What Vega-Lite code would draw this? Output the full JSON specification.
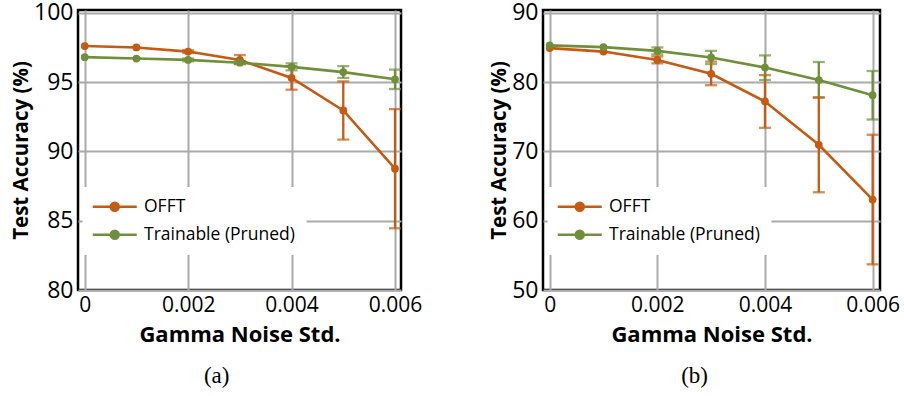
{
  "$schema": "https://vega.github.io/schema/vega-lite/v6.json",
  "background": "white",
  "padding": {"left": 10, "top": 0, "right": 0, "bottom": 0},
  "spacing": 64,
  "config": {
    "font": "Open Sans",
    "view": {"stroke": "black", "strokeWidth": 2.5},
    "axis": {"grid": true, "gridColor": "#aaaaaa", "gridWidth": 2, "domain": false, "ticks": false, "labelColor": "black", "titleColor": "black", "titleFontWeight": "bold", "labelFont": "Open Sans", "titleFont": "Open Sans"},
    "axisY": {"labelFontSize": 23, "labelPadding": 5, "titlePadding": 2, "titleFontSize": 20.5},
    "axisX": {"labelFontSize": 21, "labelPadding": 4, "titlePadding": 9, "labelFlush": false, "titleFontSize": 22},
    "title": {"font": "Liberation Serif", "fontSize": 23, "fontWeight": "normal", "color": "black"}
  },
  "resolve": {"legend": {"color": "independent"}},
  "datasets": {
    "a": [
      {"series": "OFFT", "x": 0, "acc": 97.6, "lo": null, "hi": null},
      {"series": "OFFT", "x": 0.001, "acc": 97.5, "lo": null, "hi": null},
      {"series": "OFFT", "x": 0.002, "acc": 97.2, "lo": 97.1, "hi": 97.3},
      {"series": "OFFT", "x": 0.003, "acc": 96.6, "lo": 96.3, "hi": 96.95},
      {"series": "OFFT", "x": 0.004, "acc": 95.3, "lo": 94.45, "hi": 96.15},
      {"series": "OFFT", "x": 0.005, "acc": 92.95, "lo": 90.85, "hi": 95.05},
      {"series": "OFFT", "x": 0.006, "acc": 88.75, "lo": 84.45, "hi": 93.05},
      {"series": "Trainable (Pruned)", "x": 0, "acc": 96.8, "lo": null, "hi": null},
      {"series": "Trainable (Pruned)", "x": 0.001, "acc": 96.7, "lo": null, "hi": null},
      {"series": "Trainable (Pruned)", "x": 0.002, "acc": 96.6, "lo": 96.5, "hi": 96.7},
      {"series": "Trainable (Pruned)", "x": 0.003, "acc": 96.4, "lo": 96.3, "hi": 96.5},
      {"series": "Trainable (Pruned)", "x": 0.004, "acc": 96.1, "lo": 95.85, "hi": 96.35},
      {"series": "Trainable (Pruned)", "x": 0.005, "acc": 95.72, "lo": 95.3, "hi": 96.15},
      {"series": "Trainable (Pruned)", "x": 0.006, "acc": 95.2, "lo": 94.5, "hi": 95.9}
    ],
    "b": [
      {"series": "OFFT", "x": 0, "acc": 84.9, "lo": null, "hi": null},
      {"series": "OFFT", "x": 0.001, "acc": 84.4, "lo": null, "hi": null},
      {"series": "OFFT", "x": 0.002, "acc": 83.2, "lo": 82.7, "hi": 83.7},
      {"series": "OFFT", "x": 0.003, "acc": 81.2, "lo": 79.55, "hi": 82.95},
      {"series": "OFFT", "x": 0.004, "acc": 77.2, "lo": 73.4, "hi": 81.0},
      {"series": "OFFT", "x": 0.005, "acc": 70.95, "lo": 64.1, "hi": 77.8},
      {"series": "OFFT", "x": 0.006, "acc": 63.05, "lo": 53.7, "hi": 72.4},
      {"series": "Trainable (Pruned)", "x": 0, "acc": 85.3, "lo": null, "hi": null},
      {"series": "Trainable (Pruned)", "x": 0.001, "acc": 85.05, "lo": null, "hi": null},
      {"series": "Trainable (Pruned)", "x": 0.002, "acc": 84.5, "lo": 84.0, "hi": 85.0},
      {"series": "Trainable (Pruned)", "x": 0.003, "acc": 83.55, "lo": 82.6, "hi": 84.5},
      {"series": "Trainable (Pruned)", "x": 0.004, "acc": 82.1, "lo": 80.3, "hi": 83.85},
      {"series": "Trainable (Pruned)", "x": 0.005, "acc": 80.3, "lo": 77.75, "hi": 82.9},
      {"series": "Trainable (Pruned)", "x": 0.006, "acc": 78.1, "lo": 74.6, "hi": 81.6}
    ]
  },
  "hconcat": [
    {
      "width": 323, "height": 280,
      "data": {"name": "a"},
      "title": {"text": "(a)", "orient": "bottom", "anchor": "middle", "frame": "bounds", "offset": 20},
      "encoding": {
        "x": {"field": "x", "type": "quantitative", "scale": {"domain": [-0.00013, 0.006116], "nice": false, "zero": false}, "axis": {"values": [0, 0.002, 0.004, 0.006], "format": "~f", "title": "Gamma Noise Std."}},
        "color": {"field": "series", "type": "nominal", "scale": {"domain": ["OFFT", "Trainable (Pruned)"], "range": ["#c55a11", "#6f8f3a"]},
          "legend": {"orient": "none", "legendX": 4.5, "legendY": 177, "direction": "vertical", "title": null, "fillColor": "white", "padding": 11, "labelFontSize": 17.5, "labelFont": "Open Sans", "labelColor": "black", "symbolType": "M-1.9,0L6.9,0M1.7,0A0.8,0.8 0 1,0 3.3,0A0.8,0.8 0 1,0 1.7,0Z", "symbolSize": 100, "symbolStrokeWidth": 2.5, "symbolOffset": 0, "labelOffset": 33, "rowPadding": 9, "symbolOpacity": 1}}
      },
      "layer": [
        {"mark": {"type": "rule", "strokeWidth": 2.3}, "encoding": {"y": {"field": "lo", "type": "quantitative", "scale": {"domain": [80, 100.2], "nice": false, "zero": false}, "axis": {"values": [80, 85, 90, 95, 100], "title": "Test Accuracy (%)"}}, "y2": {"field": "hi"}}},
        {"mark": {"type": "tick", "orient": "horizontal", "size": 12, "thickness": 2.3}, "encoding": {"y": {"field": "lo", "type": "quantitative", "scale": {"domain": [80, 100.2], "nice": false, "zero": false}, "axis": {"values": [80, 85, 90, 95, 100], "title": "Test Accuracy (%)"}}}},
        {"mark": {"type": "tick", "orient": "horizontal", "size": 12, "thickness": 2.3}, "encoding": {"y": {"field": "hi", "type": "quantitative", "scale": {"domain": [80, 100.2], "nice": false, "zero": false}, "axis": {"values": [80, 85, 90, 95, 100], "title": "Test Accuracy (%)"}}}},
        {"mark": {"type": "line", "strokeWidth": 2.6}, "encoding": {"y": {"field": "acc", "type": "quantitative", "scale": {"domain": [80, 100.2], "nice": false, "zero": false}, "axis": {"values": [80, 85, 90, 95, 100], "title": "Test Accuracy (%)"}}}},
        {"mark": {"type": "point", "filled": true, "size": 60, "opacity": 1}, "encoding": {"y": {"field": "acc", "type": "quantitative", "scale": {"domain": [80, 100.2], "nice": false, "zero": false}, "axis": {"values": [80, 85, 90, 95, 100], "title": "Test Accuracy (%)"}}}}
      ]
    },
    {
      "width": 337, "height": 280,
      "data": {"name": "b"},
      "title": {"text": "(b)", "orient": "bottom", "anchor": "middle", "frame": "bounds", "offset": 20},
      "encoding": {
        "x": {"field": "x", "type": "quantitative", "scale": {"domain": [-0.000124, 0.006137], "nice": false, "zero": false}, "axis": {"values": [0, 0.002, 0.004, 0.006], "format": "~f", "title": "Gamma Noise Std."}},
        "color": {"field": "series", "type": "nominal", "scale": {"domain": ["OFFT", "Trainable (Pruned)"], "range": ["#c55a11", "#6f8f3a"]},
          "legend": {"orient": "none", "legendX": 4.5, "legendY": 177, "direction": "vertical", "title": null, "fillColor": "white", "padding": 11, "labelFontSize": 17.5, "labelFont": "Open Sans", "labelColor": "black", "symbolType": "M-1.9,0L6.9,0M1.7,0A0.8,0.8 0 1,0 3.3,0A0.8,0.8 0 1,0 1.7,0Z", "symbolSize": 100, "symbolStrokeWidth": 2.5, "symbolOffset": 0, "labelOffset": 33, "rowPadding": 9, "symbolOpacity": 1}}
      },
      "layer": [
        {"mark": {"type": "rule", "strokeWidth": 2.3}, "encoding": {"y": {"field": "lo", "type": "quantitative", "scale": {"domain": [50, 90.4], "nice": false, "zero": false}, "axis": {"values": [50, 60, 70, 80, 90], "title": "Test Accuracy (%)"}}, "y2": {"field": "hi"}}},
        {"mark": {"type": "tick", "orient": "horizontal", "size": 12, "thickness": 2.3}, "encoding": {"y": {"field": "lo", "type": "quantitative", "scale": {"domain": [50, 90.4], "nice": false, "zero": false}, "axis": {"values": [50, 60, 70, 80, 90], "title": "Test Accuracy (%)"}}}},
        {"mark": {"type": "tick", "orient": "horizontal", "size": 12, "thickness": 2.3}, "encoding": {"y": {"field": "hi", "type": "quantitative", "scale": {"domain": [50, 90.4], "nice": false, "zero": false}, "axis": {"values": [50, 60, 70, 80, 90], "title": "Test Accuracy (%)"}}}},
        {"mark": {"type": "line", "strokeWidth": 2.6}, "encoding": {"y": {"field": "acc", "type": "quantitative", "scale": {"domain": [50, 90.4], "nice": false, "zero": false}, "axis": {"values": [50, 60, 70, 80, 90], "title": "Test Accuracy (%)"}}}},
        {"mark": {"type": "point", "filled": true, "size": 60, "opacity": 1}, "encoding": {"y": {"field": "acc", "type": "quantitative", "scale": {"domain": [50, 90.4], "nice": false, "zero": false}, "axis": {"values": [50, 60, 70, 80, 90], "title": "Test Accuracy (%)"}}}}
      ]
    }
  ]
}
